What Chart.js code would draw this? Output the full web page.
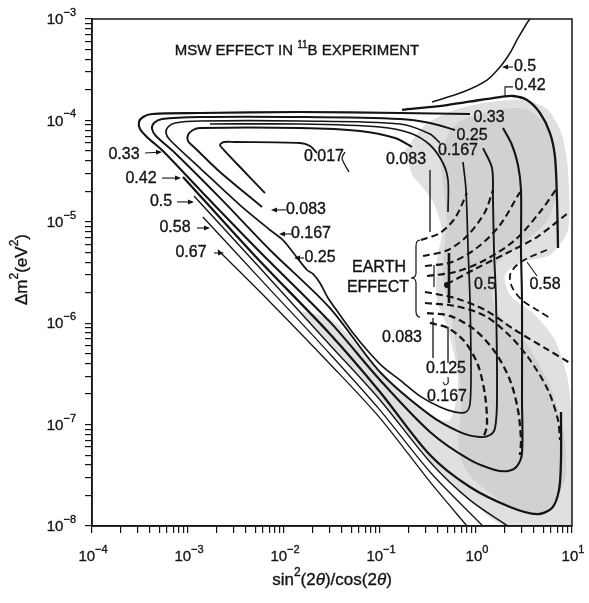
<!DOCTYPE html>
<html><head><meta charset="utf-8">
<script src="https://cdn.jsdelivr.net/npm/chart.js@4.4.1/dist/chart.umd.min.js"></script>
<style>html,body{margin:0;padding:0;background:#fff;}</style>
</head><body>
<canvas id="c" width="589" height="603"></canvas>
<script>
// ---- axis ticks ----
const xTickExp = [-4,-3,-2,-1,0,1];
const yTickExp = [-8,-7,-6,-5,-4,-3];
const minorMult = [1,2,3,4,5,6,7,8,9];

// ---- contour lines (x = sin^2(2θ)/cos(2θ), y = Δm^2 eV^2) ----
const c067 = [[2.05e-3,5.27e-6],[7.15e-3,1.62e-6],[0.0301,3.96e-7],[0.1,1.16e-7],[0.332,2.72e-8],[0.806,1e-8]];
const c058 = [[1.43e-3,1.115e-5],[6.34e-3,2.43e-6],[0.0301,4.97e-7],[0.1,1.39e-7],[0.332,3.41e-8],[1.18,1e-8]];
const c050 = [[1.155e-3,1.80e-5],[5.62e-3,3.50e-6],[0.0301,6.10e-7],[0.1,1.75e-7],[0.332,4.28e-8],[0.866,1.80e-8],[2.15,1e-8]];
const c050top = [[0.3481,1.518e-4],[0.732,1.906e-4],[1.302,2.50e-4],[1.778,3.36e-4],[2.26,4.62e-4],[2.673,6.21e-4],[3.398,9.13e-4],[3.652,1e-3]];
const c042a = [[8.87e-4,2.77e-5],[4.99e-3,4.60e-6],[0.0301,7.83e-7],[0.1,2.10e-7],[0.332,5.01e-8],[0.866,2.42e-8],[2.26,1.54e-8],[4.32,1.31e-8],[6.19,1.505e-8],[7.32,2.26e-8],[7.68,4.48e-8],[7.68,1.33e-7]];
const c042b = [[0.1695,1.27e-4],[0.499,1.418e-4],[1.10,1.589e-4],[1.78,1.70e-4],[2.43,1.74e-4],[3.40,1.589e-4],[4.64,1.183e-4],[5.90,7.51e-5],[6.65,4.36e-5],[6.98,1.64e-5],[7.15,5.51e-6]];
const c033 = [[0.866,1.156e-4],[0.1616,1.183e-4],[0.01468,1.21e-4],[1.334e-3,1.183e-4],[4.217e-4,1.156e-4],[3.398e-4,1.080e-4],[3.087e-4,9.64e-5],[3.162e-4,8.23e-5],[3.831e-4,6.71e-5],[5.49e-4,4.99e-5],[1.334e-3,2.06e-5],[5.623e-3,5.04e-6],[0.0301,1.03e-6],[0.1,2.75e-7],[0.332,8.45e-8],[0.866,4.48e-8],[1.578,3.57e-8],[2.154,3.49e-8],[2.673,3.90e-8],[3.014,5.25e-8],[3.014,1.75e-7],[3.014,1.69e-6],[2.942,5.27e-6],[2.942,2.06e-5],[2.738,3.63e-5],[2.371,5.72e-5],[1.911,8.41e-5]];
const c025 = [[0.6043,8.04e-5],[0.3318,9.43e-5],[0.1616,1.032e-4],[0.01468,1.080e-4],[1.334e-3,1.080e-4],[5.361e-4,1.032e-4],[4.423e-4,9.43e-5],[4.217e-4,8.23e-5],[4.642e-4,7.02e-5],[7.32e-4,4.77e-5],[2.154e-3,1.72e-5],[7.15e-3,5.27e-6],[0.0301,1.41e-6],[0.1,3.30e-7],[0.332,1.24e-7],[0.681,8.45e-8],[1.10,7.54e-8],[1.40,7.89e-8],[1.578,9.26e-8],[1.655,1.75e-7],[1.616,1.69e-6],[1.54,5.27e-6],[1.503,1.64e-5],[1.468,3.39e-5],[1.183,5.34e-5]];
const c0167 = [[0.4217,5.98e-5],[0.3318,7.34e-5],[0.1616,9.21e-5],[0.01468,9.86e-5],[1.334e-3,9.86e-5],[7.32e-4,9.43e-5],[6.19e-4,8.61e-5],[5.90e-4,7.51e-5],[6.494e-4,6.41e-5],[1.334e-3,3.39e-5],[3.481e-3,1.46e-5],[7.15e-3,8.30e-6],[9.76e-3,6.61e-6],[0.01302,4.71e-6],[0.01736,3.35e-6],[0.02005,3.06e-6],[0.02371,2.49e-6],[0.02873,1.77e-6],[0.03831,1.205e-6],[0.05233,8.01e-7],[0.0732,5.44e-7],[0.1074,3.70e-7],[0.1616,2.75e-7],[0.261,1.91e-7],[0.4217,1.49e-7],[0.6043,1.33e-7],[0.7866,1.33e-7],[0.866,1.60e-7],[0.8871,3.46e-7],[0.866,1.69e-6],[0.8254,5.64e-6],[0.7866,2.06e-5],[0.732,3.89e-5]];
const c0125a = [[1.695e-3,9.21e-5],[0.01468,9.21e-5],[0.1,8.61e-5],[0.2054,7.51e-5],[0.3318,5.72e-5],[0.453,3.80e-5],[0.511,2.58e-5],[0.511,1.25e-5]];
const c0125b = [[0.5233,4.93e-6],[0.5233,1.58e-6]];
const c0125c = [[0.511,9.17e-7],[0.511,4.05e-7]];
const c0083a = [[5.90e-3,1.40e-5],[2.154e-3,3.10e-5],[1.183e-3,5.34e-5],[1.0e-3,6.26e-5],[1.0e-3,7.18e-5],[1.127e-3,8.04e-5],[1.334e-3,8.41e-5],[0.01468,8.41e-5],[0.0619,7.86e-5],[0.1433,6.71e-5],[0.2154,5.47e-5]];
const c0083b = [[0.3318,3.24e-5],[0.3318,7.93e-6]];
const c0083c = [[0.3565,1.125e-6],[0.3565,4.54e-7]];
const c0083d = [[0.3652,3.75e-6],[0.3652,2.28e-6]];
const c0017a = [[6.34e-3,1.92e-5],[3.481e-3,3.47e-5],[2.371e-3,5.10e-5],[2.154e-3,5.72e-5],[2.371e-3,6.12e-5],[3.087e-3,6.12e-5],[0.01468,5.98e-5],[0.01866,5.59e-5],[0.02207,4.77e-5]];
const c0017b = [[0.04319,4.88e-5],[0.0402,4.26e-5],[0.04319,3.63e-5],[0.04753,3.10e-5]];

// ---- Earth-effect dashed contours ----
const e1 = [[0.2673,6.61e-6],[0.4217,7.75e-6],[0.6043,1.09e-5],[0.8058,1.92e-5]];
const e2 = [[0.2805,4.60e-6],[0.511,5.27e-6],[0.8254,7.41e-6],[1.241,1.25e-5],[1.503,2.06e-5]];
const e3 = [[0.2942,3.66e-6],[0.5623,4.01e-6],[1.048,5.64e-6],[1.778,9.30e-6],[2.873,1.97e-5]];
const e4 = [[0.3087,2.92e-6],[0.6043,3.20e-6],[1.241,4.20e-6],[2.548,6.61e-6],[4.642,1.25e-5],[6.98,2.15e-5]];
const e5 = [[0.4988,2.43e-6],[1.024,3.50e-6],[2.104,4.93e-6],[4.319,7.08e-6],[9.085,1.22e-5]];
const e6 = [[0.2942,2.03e-6],[0.6043,1.77e-6],[1.241,1.35e-6],[2.548,8.57e-7],[5.233,5.69e-7],[9.53,4.05e-7]];
const e7 = [[0.2942,1.58e-6],[0.6043,1.48e-6],[1.241,1.18e-6],[2.26,7.48e-7],[3.652,4.34e-7],[5.623,2.19e-7],[7.15,1.11e-7],[7.50,7.05e-8]];
const e8 = [[0.3087,1.26e-6],[0.5361,1.18e-6],[0.9763,8.57e-7],[1.578,5.20e-7],[2.26,2.75e-7],[2.738,1.39e-7],[2.942,7.05e-8],[2.873,5.01e-8]];
const e9 = [[0.3318,1.005e-6],[0.511,8.97e-7],[0.768,6.53e-7],[1.048,3.87e-7],[1.241,1.96e-7],[1.302,9.91e-8],[1.212,7.72e-8]];
const e10 = [[5.49,5.27e-6],[3.652,4.50e-6],[2.673,3.75e-6],[2.26,2.99e-6],[2.371,2.28e-6],[3.014,1.69e-6],[4.319,1.35e-6],[5.90,1.125e-6]];
const focus = [[0.4988,2.38e-6]];

// ---- shaded region ----
const shade = [[0.1821,5.10e-5],[0.2942,9.01e-5],[0.6043,1.27e-4],[1.399,1.518e-4],[3.239,1.589e-4],[5.623,1.27e-4],[7.866,7.18e-5],[9.085,3.24e-5],[9.085,8.30e-6],[5.90,4.71e-6],[3.014,4.01e-6],[2.005,2.99e-6],[2.26,1.90e-6],[4.117,1.205e-6],[6.65,6.83e-7],[9.085,2.75e-7],[10,8.85e-8],[10,1e-8],[2.005,1e-8],[0.866,1.80e-8],[0.3318,4.28e-8],[0.1,1.75e-7],[0.0301,6.10e-7],[0.01468,1.29e-6],[0.03398,1.03e-6],[0.1,3.30e-7],[0.3318,1.24e-7],[0.5361,1.11e-7],[0.6494,2.75e-7],[0.511,8.57e-7],[0.3925,1.69e-6],[0.3925,4.20e-6],[0.4423,8.30e-6],[0.3481,1.64e-5],[0.2154,2.89e-5]];
const shadeCore = [[0.4217,4.5e-5],[0.6043,9.0e-5],[1.4,1.2e-4],[3.2,1.3e-4],[5.2,9.0e-5],[6.9,4.0e-5],[6.0,1.2e-5],[3.0,6.0e-6],[1.6,3.6e-6],[1.6,1.4e-6],[3.5,6.0e-7],[7.0,1.5e-7],[8.5,3.0e-8],[4.5,1.3e-8],[1.5,2.0e-8],[0.7,4.5e-8],[0.7,2.0e-7],[0.55,1.2e-6],[0.45,3.0e-6],[0.5,1.0e-5]];

// ---- leader lines ----
const lead042 = [[2.429,2.14e-4],[2.005,2.14e-4],[2.005,1.74e-4]];
const lead058 = [[4.319,2.92e-6],[3.398,4.01e-6]];
const hookJ = [[0.511,2.95e-7],[0.511,2.57e-7],[0.4753,2.46e-7],[0.453,2.63e-7]];

// ---- labels [text, x, y] ----
const contourLabels = [
 ['0.33',2.154e-4,4.56e-5],['0.42',3.239e-4,2.64e-5],['0.5',5.233e-4,1.57e-5],['0.58',7.32e-4,8.69e-6],['0.67',1.074e-3,4.93e-6],
 ['0.083',0.01694,1.31e-5],['0.167',0.01911,7.58e-6],['0.25',0.02371,4.40e-6],['0.017',0.0261,4.36e-5],
 ['0.5',3.239,3.36e-4],['0.42',3.652,2.18e-4],['0.33',1.367,1.056e-4],['0.25',0.9085,7.02e-5],['0.167',0.6494,4.99e-5],['0.083',0.1866,4.07e-5],
 ['0.5',1.241,2.38e-6],['0.58',5.233,2.38e-6],['0.083',0.1695,7.14e-7],['0.125',0.487,3.53e-7],['0.167',0.4988,1.87e-7],
 ['EARTH',0.0976,3.50e-6],['EFFECT',0.0953,2.22e-6]
];
const arrows = [
 [3.565e-4,4.77e-5,5.361e-4,4.88e-5],[5.361e-4,2.70e-5,8.45e-4,2.70e-5],[7.68e-4,1.57e-5,1.155e-3,1.57e-5],
 [1.241e-3,8.69e-6,1.695e-3,8.69e-6],[1.866e-3,4.93e-6,2.371e-3,4.93e-6],
 [0.01049,1.31e-5,7.32e-3,1.31e-5],[0.01212,7.58e-6,8.87e-3,7.58e-6],[0.01616,4.40e-6,0.0127,4.40e-6],
 [2.429,3.36e-4,1.866,3.36e-4]
];
const brace = {x:0.2371, tipX:0.2104, yTop:6.61e-6, yMid:2.79e-6, yBot:1.15e-6};
const titlePos = {x:0.01366, y:4.83e-4};

const INK = '#141414';
function ds(pts, w, dash, tension){
  return {data: pts.map(p=>({x:p[0],y:p[1]})), showLine:true, borderColor:INK, borderWidth:w,
    borderDash: dash||[], pointRadius:0, tension: tension===undefined?0.3:tension, fill:false, order:1};
}
const DASH=[7,4];
const datasets = [
  ds(c067,1.3), ds(c058,1.3), ds(c050,1.4), ds(c050top,1.5),
  ds(c042a,2.3), ds(c042b,2.3), ds(c033,2.1), ds(c025,1.9), ds(c0167,1.7),
  ds(c0125a,1.7), ds(c0125b,2.6,null,0), ds(c0125c,1.3,null,0),
  ds(c0083a,1.9), ds(c0083b,1.3,null,0), ds(c0083c,1.3,null,0), ds(c0083d,1.2,null,0),
  ds(c0017a,1.9), ds(c0017b,1.3),
  ds(e1,2.1,DASH), ds(e2,2.1,DASH), ds(e3,2.1,DASH), ds(e4,2.1,DASH), ds(e5,2.1,DASH),
  ds(e6,2.1,DASH), ds(e7,2.1,DASH), ds(e8,2.3,DASH), ds(e9,2.3,DASH), ds(e10,1.8,DASH),
  ds(lead042,1.1,null,0), ds(lead058,1.1,null,0), ds(hookJ,1.1,null,0.3),
  {data: focus.map(p=>({x:p[0],y:p[1]})), pointRadius:3, pointBackgroundColor:INK, pointBorderWidth:0, showLine:false, order:1},
  {data: shadeCore.map(p=>({x:p[0],y:p[1]})), showLine:true, borderWidth:0, borderColor:'rgba(0,0,0,0)',
    backgroundColor:'rgba(0,0,0,0.07)', fill:'shape', pointRadius:0, tension:0.35, order:9},
  {data: shade.map(p=>({x:p[0],y:p[1]})), showLine:true, borderWidth:0, borderColor:'rgba(0,0,0,0)',
    backgroundColor:'rgba(0,0,0,0.12)', fill:'shape', pointRadius:0, tension:0.25, order:10}
];

const FF = '"Liberation Sans", Arial, Helvetica, sans-serif';
function rich(ctx, segs, x, y, align){
  let w=0; segs.forEach(s=>{ctx.font=s.f; w+=ctx.measureText(s.t).width;});
  let cx = align==='center'? x-w/2 : align==='right'? x-w : x;
  segs.forEach(s=>{ctx.font=s.f; ctx.fillText(s.t, cx, y+(s.dy||0)); ctx.strokeText(s.t, cx, y+(s.dy||0)); cx+=ctx.measureText(s.t).width;});
}

const decor = {
  id:'decor',
  afterDraw(chart){
    const ctx=chart.ctx, xs=chart.scales.x, ys=chart.scales.y, a=chart.chartArea;
    ctx.save();
    ctx.fillStyle=INK; ctx.strokeStyle=INK;
    // frame
    ctx.lineWidth=1.5; ctx.strokeRect(a.left,a.top,a.right-a.left,a.bottom-a.top);
    ctx.textBaseline='middle'; ctx.textAlign='left';
    ctx.lineWidth=0.35;
    const main='15px '+FF, sup='11px '+FF;
    xTickExp.forEach(e=>{
      const px=xs.getPixelForValue(Math.pow(10,e));
      rich(ctx,[{t:'10',f:main},{t:(e<0?'\u2212':'')+Math.abs(e),f:sup,dy:-7}],px+1,a.bottom+31,'center');
    });
    yTickExp.forEach(e=>{
      const py=ys.getPixelForValue(Math.pow(10,e));
      rich(ctx,[{t:'10',f:main},{t:(e<0?'\u2212':'')+Math.abs(e),f:sup,dy:-7}],a.left-16,py+1,'right');
    });
    // axis titles
    const tf='17px '+FF, ts='12px '+FF, ti='italic 17px '+FF;
    rich(ctx,[{t:'sin',f:tf},{t:'2',f:ts,dy:-7},{t:'(2',f:tf},{t:'\u03b8',f:ti},{t:')/cos(2',f:tf},{t:'\u03b8',f:ti},{t:')',f:tf}],
      (a.left+a.right)/2, a.bottom+54,'center');
    ctx.save(); ctx.translate(22,(a.top+a.bottom)/2-3); ctx.rotate(-Math.PI/2);
    rich(ctx,[{t:'\u0394m',f:tf},{t:'2',f:ts,dy:-7},{t:'(eV',f:tf},{t:'2',f:ts,dy:-7},{t:')',f:tf}],0,0,'center');
    ctx.restore();
    // title
    rich(ctx,[{t:'MSW EFFECT IN ',f:'15px '+FF},{t:'11',f:'10px '+FF,dy:-6},{t:'B EXPERIMENT',f:'15px '+FF}],
      xs.getPixelForValue(titlePos.x), ys.getPixelForValue(titlePos.y),'center');
    // contour labels
    contourLabels.forEach(l=>{
      rich(ctx,[{t:l[0],f:'16px '+FF}], xs.getPixelForValue(l[1]), ys.getPixelForValue(l[2]),'center');
    });
    // arrows
    ctx.lineWidth=1.1;
    arrows.forEach(r=>{
      const x1=xs.getPixelForValue(r[0]), y1=ys.getPixelForValue(r[1]), x2=xs.getPixelForValue(r[2]), y2=ys.getPixelForValue(r[3]);
      const ang=Math.atan2(y2-y1,x2-x1);
      ctx.beginPath(); ctx.moveTo(x1,y1); ctx.lineTo(x2-4*Math.cos(ang),y2-4*Math.sin(ang)); ctx.stroke();
      ctx.beginPath(); ctx.moveTo(x2,y2);
      ctx.lineTo(x2-6*Math.cos(ang)+2.5*Math.sin(ang), y2-6*Math.sin(ang)-2.5*Math.cos(ang));
      ctx.lineTo(x2-6*Math.cos(ang)-2.5*Math.sin(ang), y2-6*Math.sin(ang)+2.5*Math.cos(ang));
      ctx.closePath(); ctx.fill();
    });
    // brace
    const bx=xs.getPixelForValue(brace.x), tx=xs.getPixelForValue(brace.tipX);
    const y1=ys.getPixelForValue(brace.yTop), ym=ys.getPixelForValue(brace.yMid), y2=ys.getPixelForValue(brace.yBot);
    ctx.lineWidth=1.2; ctx.beginPath();
    ctx.moveTo(bx+4,y1); ctx.quadraticCurveTo(bx,y1,bx,y1+6); ctx.lineTo(bx,ym-5);
    ctx.quadraticCurveTo(bx,ym,tx,ym); ctx.quadraticCurveTo(bx,ym,bx,ym+5);
    ctx.lineTo(bx,y2-6); ctx.quadraticCurveTo(bx,y2,bx+4,y2); ctx.stroke();
    ctx.restore();
  }
};

const minorTicks = (exps) => {
  const out=[];
  for (let i=0;i<exps.length-1;i++) minorMult.forEach(m=>out.push(m*Math.pow(10,exps[i])));
  out.push(Math.pow(10,exps[exps.length-1]));
  return out;
};

new Chart(document.getElementById('c'),{
  type:'scatter',
  data:{datasets},
  options:{
    responsive:false, animation:false, devicePixelRatio:1,
    layout:{padding:{left:85,right:17,top:19,bottom:70}},
    plugins:{legend:{display:false},tooltip:{enabled:false}},
    scales:{
      x:{type:'logarithmic',min:1e-4,max:10,
        afterBuildTicks:(s)=>{s.ticks=minorTicks(xTickExp).map(v=>({value:v}));},
        ticks:{display:false},
        grid:{display:true,drawOnChartArea:false,drawTicks:true,tickLength:7,color:INK,lineWidth:1.2},
        border:{display:true,color:INK,width:1.5}},
      y:{type:'logarithmic',min:1e-8,max:1e-3,
        afterBuildTicks:(s)=>{s.ticks=minorTicks(yTickExp).map(v=>({value:v}));},
        ticks:{display:false},
        grid:{display:true,drawOnChartArea:false,drawTicks:true,tickLength:7,color:INK,lineWidth:1.2},
        border:{display:true,color:INK,width:1.5}}
    }
  },
  plugins:[decor]
});
</script>
</body></html>
